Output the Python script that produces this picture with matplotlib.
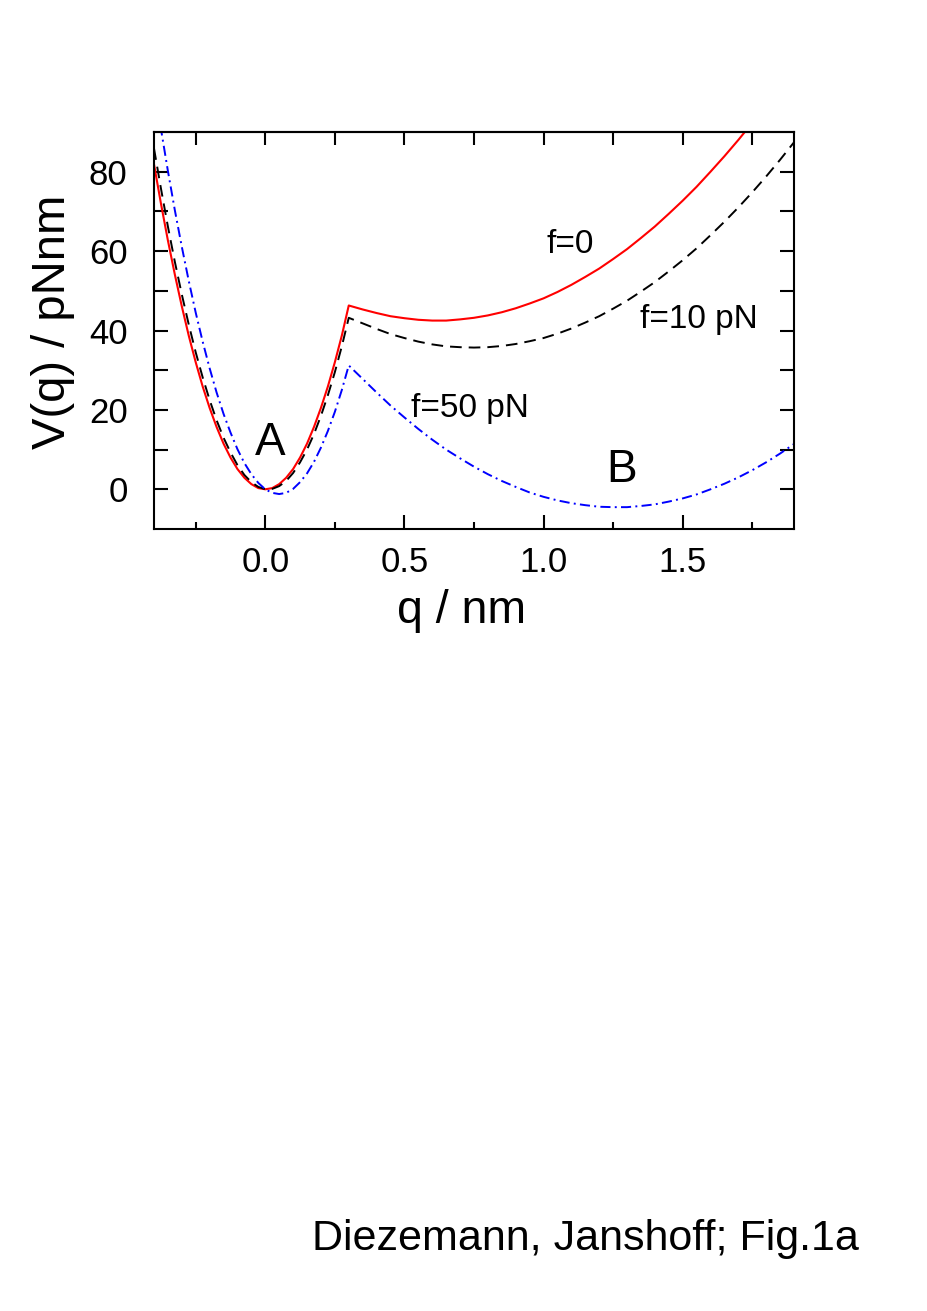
import matplotlib
matplotlib.use("Agg")
import matplotlib.pyplot as plt

plt.rcParams["font.family"] = ["Liberation Sans", "DejaVu Sans"]

# reaction coordinate (nm), cusp of the two branches at q = 0.3
q = [-0.400, -0.375, -0.350, -0.325, -0.300, -0.275, -0.250, -0.225, -0.200,
     -0.175, -0.150, -0.125, -0.100, -0.075, -0.050, -0.025, 0.000, 0.025,
     0.050, 0.075, 0.100, 0.125, 0.150, 0.175, 0.200, 0.225, 0.250, 0.275,
     0.30, 0.35, 0.40, 0.45, 0.50, 0.55,
     0.60, 0.65, 0.70, 0.75, 0.80, 0.85, 0.90, 0.95, 1.00, 1.05,
     1.10, 1.15, 1.20, 1.25, 1.30, 1.35, 1.40, 1.45, 1.50, 1.55,
     1.60, 1.65, 1.70, 1.75, 1.80, 1.85, 1.90]

# V(q) in pN nm
v_f0 = [81.9, 72.0, 62.7, 54.1, 46.1, 38.7, 32.0, 25.9, 20.5,
        15.7, 11.5, 8.0, 5.1, 2.9, 1.3, 0.3, 0.0, 0.3,
        1.3, 2.9, 5.1, 8.0, 11.5, 15.7, 20.5, 25.9, 32.0, 38.7,
        46.3, 45.3, 44.4, 43.6, 43.1, 42.7,
        42.5, 42.5, 42.8, 43.2, 43.8, 44.6, 45.6, 46.8, 48.1, 49.7,
        51.5, 53.5, 55.6, 58.0, 60.5, 63.3, 66.2, 69.4, 72.7, 76.2,
        80.0, 83.9, 88.0, 92.3, 96.8, 101.5, 106.4]
v_f10 = [85.9, 75.8, 66.2, 57.3, 49.1, 41.5, 34.5, 28.2, 22.5,
         17.4, 13.0, 9.3, 6.1, 3.6, 1.8, 0.6, 0.0, 0.1,
         0.8, 2.1, 4.1, 6.8, 10.0, 13.9, 18.5, 23.7, 29.5, 36.0,
         43.2, 41.8, 40.4, 39.1, 38.1, 37.2,
         36.5, 36.0, 35.8, 35.7, 35.8, 36.1, 36.6, 37.3, 38.1, 39.2,
         40.5, 42.0, 43.6, 45.5, 47.5, 49.8, 52.2, 54.9, 57.7, 60.7,
         64.0, 67.4, 71.0, 74.8, 78.8, 83.0, 87.4]
v_f50 = [101.9, 90.8, 80.2, 70.3, 61.1, 52.5, 44.5, 37.2, 30.5,
         24.4, 19.0, 14.3, 10.1, 6.6, 3.8, 1.6, 0.0, -0.9,
         -1.2, -0.9, 0.1, 1.8, 4.0, 6.9, 10.5, 14.7, 19.5, 25.0,
         31.2, 27.8, 24.4, 21.1, 18.1, 15.2,
         12.5, 10.0, 7.8, 5.7, 3.8, 2.1, 0.6, -0.8, -1.9, -2.8,
         -3.5, -4.0, -4.4, -4.5, -4.5, -4.2, -3.8, -3.1, -2.3, -1.3,
         0.0, 1.4, 3.0, 4.8, 6.8, 9.0, 11.4]

fig = plt.figure(figsize=(9.27, 13.11), dpi=100)
ax = fig.add_axes([0.1661, 0.5965, 0.6904, 0.3028])

ax.plot(q, v_f0, "-", color="#ff0000", lw=1.5)
ax.plot(q, v_f10, color="black", lw=1.4, dashes=(6.0, 3.6))
ax.plot(q, v_f50, color="#0000ff", lw=1.4, dashes=(5.2, 2.2, 1.0, 2.2))

ax.set_xlim(-0.4, 1.9)
ax.set_ylim(-10, 90)
ax.set_xticks([0.0, 0.5, 1.0, 1.5])
ax.set_xticklabels(["0.0", "0.5", "1.0", "1.5"])
ax.set_xticks([-0.25, 0.25, 0.75, 1.25, 1.75], minor=True)
ax.set_yticks([0, 20, 40, 60, 80])
ax.set_yticks([10, 30, 50, 70], minor=True)

ax.tick_params(axis="x", which="both", direction="in", top=False,
               labelsize=25, width=1.5, pad=12)
ax.tick_params(axis="x", which="major", length=10)
ax.tick_params(axis="x", which="minor", length=5)
ax.tick_params(axis="y", which="both", direction="in", right=True,
               labelsize=25, width=1.5, length=10, pad=19)

top = ax.secondary_xaxis("top")
top.set_xticks([-0.25, 0.0, 0.25, 0.5, 0.75, 1.0, 1.25, 1.5, 1.75])
top.tick_params(direction="in", length=9.5, width=1.5, labeltop=False)
top.spines["top"].set_linewidth(1.5)

for s in ax.spines.values():
    s.set_linewidth(1.5)

ax.set_xlabel("q / nm", fontsize=33.5)
ax.xaxis.set_label_coords(0.48, -0.152)
ax.set_ylabel("V(q) / pNnm", fontsize=34)
ax.yaxis.set_label_coords(-0.123, 0.521)

ax.text(1.011, 59.6, "f=0", fontsize=24, va="baseline")
ax.text(1.345, 40.7, "f=10 pN", fontsize=24, va="baseline")
ax.text(0.525, 18.3, "f=50 pN", fontsize=24, va="baseline")
ax.text(0.016, 8.65, "A", fontsize=33, ha="center", va="baseline")
ax.text(1.282, 1.9, "B", fontsize=33, ha="center", va="baseline")

fig.text(0.3366, 0.0465, "Diezemann, Janshoff; Fig.1a", fontsize=31,
         va="baseline")

fig.savefig("out.png", dpi=100)
